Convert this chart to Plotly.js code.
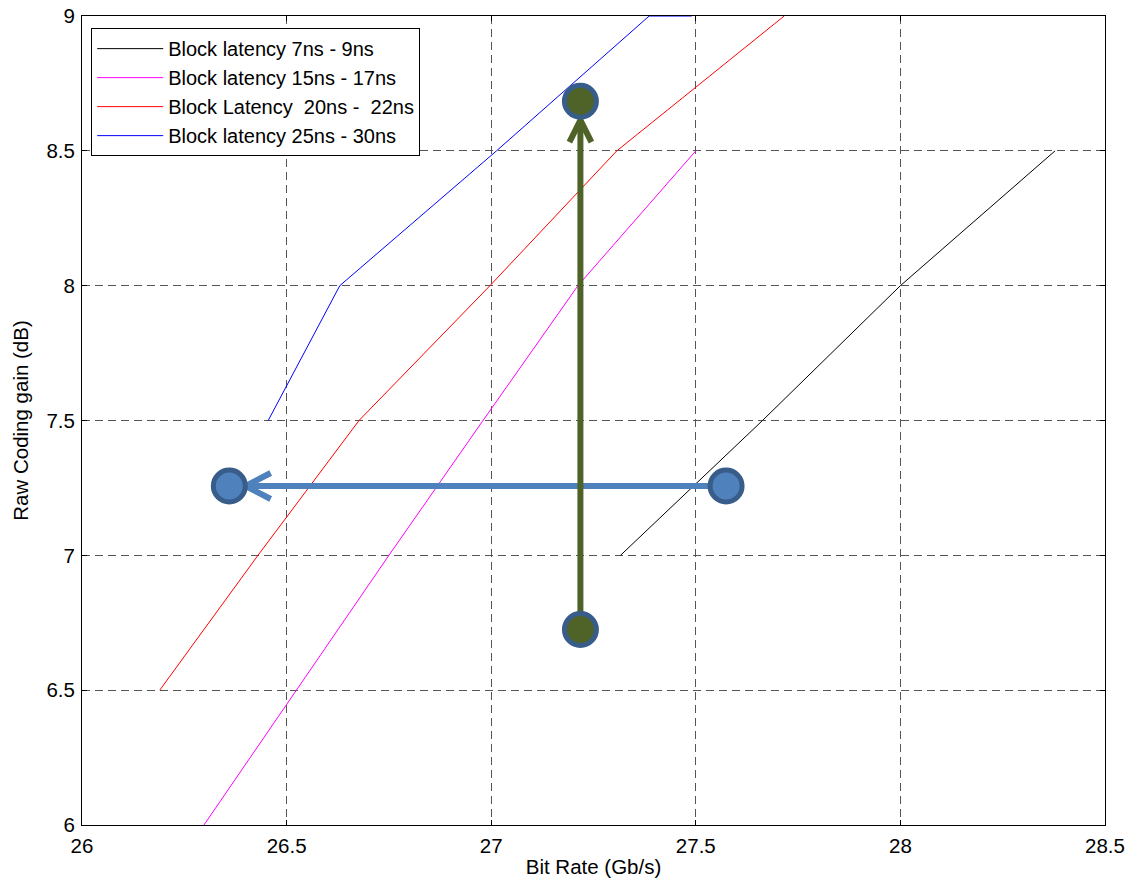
<!DOCTYPE html>
<html>
<head>
<meta charset="utf-8">
<script src="https://cdn.plot.ly/plotly-3.0.1.min.js"></script>
<style>html,body{margin:0;padding:0;background:#fff;}#chart{width:1130px;height:879px;}</style>
</head>
<body>
<div id="chart"></div>
<script>
// ---- data ----
const seriesNames = ['Block latency 7ns - 9ns', 'Block latency 15ns - 17ns', 'Block Latency \u00a020ns - \u00a022ns', 'Block latency 25ns - 30ns'];
const blackX = [27.316, 27.663, 28.0, 28.378];
const blackY = [7.0, 7.5, 8.0, 8.5];
const magentaX = [26.298, 26.523, 26.75, 26.98, 27.212, 27.5];
const magentaY = [6.0, 6.5, 7.0, 7.5, 8.0, 8.5];
const redX = [26.19, 26.43, 26.677, 26.997, 27.307, 27.716];
const redY = [6.5, 7.0, 7.5, 8.0, 8.5, 9.0];
const blueX = [26.455, 26.63, 27.013, 27.386, 27.49];
const blueY = [7.5, 8.0, 8.5, 9.0, 9.0];

// annotation arrows (start, tip) and circle markers
const hArrowX = [27.574, 26.40];
const hArrowY = [7.257, 7.257];
const hCircleX = [27.574, 26.360];
const hCircleY = [7.257, 7.257];
const vArrowX = [27.218, 27.218];
const vArrowY = [6.725, 8.614];
const vCircleX = [27.218, 27.218];
const vCircleY = [6.725, 8.684];

const xTicks = [26, 26.5, 27, 27.5, 28, 28.5];
const yTicks = [6, 6.5, 7, 7.5, 8, 8.5, 9];
const xRange = [26, 28.5];
const yRange = [6, 9];

// ---- layout geometry ----
const W = 1130, H = 879;
const M = {l: 82, r: 25, t: 16, b: 54};
const pxPerX = (W - M.l - M.r) / (xRange[1] - xRange[0]);
const pxPerY = (H - M.t - M.b) / (yRange[1] - yRange[0]);

function chevron(tipX, tipY, dirX, dirY, back, side) {
  const bx = -dirX * back, by = -dirY * back;
  const sx = -dirY * side, sy = dirX * side;
  const p1 = [tipX + (bx + sx) / pxPerX, tipY + (by + sy) / pxPerY];
  const p2 = [tipX + (bx - sx) / pxPerX, tipY + (by - sy) / pxPerY];
  return {x: [p1[0], tipX, p2[0]], y: [p1[1], tipY, p2[1]]};
}

const blueA = '#4F81BD', blueDark = '#385D8A', green = '#4F6228';
const hc = chevron(hArrowX[1], hArrowY[1], -1, 0, 25, 13);
const vc = chevron(vArrowX[1], vArrowY[1], 0, 1, 22, 11);

const font = {family: 'Liberation Sans, Arial, sans-serif', size: 20.5, color: '#000'};
const legendFont = {family: 'Liberation Sans, Arial, sans-serif', size: 20, color: '#000'};

const traces = [
  {x: blackX, y: blackY, mode: 'lines', name: seriesNames[0], line: {color: '#000000', width: 1}},
  {x: magentaX, y: magentaY, mode: 'lines', name: seriesNames[1], line: {color: '#FF00FF', width: 1}},
  {x: redX, y: redY, mode: 'lines', name: seriesNames[2], line: {color: '#FF0000', width: 1}},
  {x: blueX, y: blueY, mode: 'lines', name: seriesNames[3], line: {color: '#0000FF', width: 1}},
  {x: hArrowX, y: hArrowY, mode: 'lines', showlegend: false, hoverinfo: 'skip', line: {color: blueA, width: 6}},
  {x: hc.x, y: hc.y, mode: 'lines', showlegend: false, hoverinfo: 'skip', line: {color: blueA, width: 6}},
  {x: hCircleX, y: hCircleY, mode: 'markers', showlegend: false, hoverinfo: 'skip',
   marker: {size: 32, color: blueA, line: {color: blueDark, width: 5}}},
  {x: vArrowX, y: vArrowY, mode: 'lines', showlegend: false, hoverinfo: 'skip', line: {color: green, width: 6}},
  {x: vc.x, y: vc.y, mode: 'lines', showlegend: false, hoverinfo: 'skip', line: {color: green, width: 6}},
  {x: vCircleX, y: vCircleY, mode: 'markers', showlegend: false, hoverinfo: 'skip',
   marker: {size: 32, color: green, line: {color: blueDark, width: 5}}}
];

const axisCommon = {
  showline: true, linecolor: '#000', linewidth: 1, mirror: 'allticks',
  ticks: 'inside', ticklen: 5, tickcolor: '#000', tickwidth: 1,
  showgrid: true, gridcolor: '#555555', gridwidth: 1, griddash: '8px,5px',
  zeroline: false, tickfont: font
};

const layout = {
  width: W, height: H,
  margin: M,
  paper_bgcolor: '#fff', plot_bgcolor: '#fff',
  font: font,
  showlegend: true,
  xaxis: Object.assign({}, axisCommon, {
    range: xRange, tickvals: xTicks, ticktext: xTicks.map(String),
    ticklabelstandoff: 2,
    title: {text: 'Bit Rate (Gb/s)', font: font, standoff: 4}
  }),
  yaxis: Object.assign({}, axisCommon, {
    range: yRange, tickvals: yTicks, ticktext: yTicks.map(String),
    ticklabelstandoff: 2,
    title: {text: 'Raw Coding gain (dB)', font: font, standoff: 12}
  }),
  legend: {
    x: 0.009, y: 0.985, xanchor: 'left', yanchor: 'top',
    bgcolor: '#fff', bordercolor: '#000', borderwidth: 1,
    font: legendFont, itemwidth: 66, tracegroupgap: 0
  }
};

Plotly.newPlot('chart', traces, layout, {displayModeBar: false, staticPlot: true});
</script>
</body>
</html>
